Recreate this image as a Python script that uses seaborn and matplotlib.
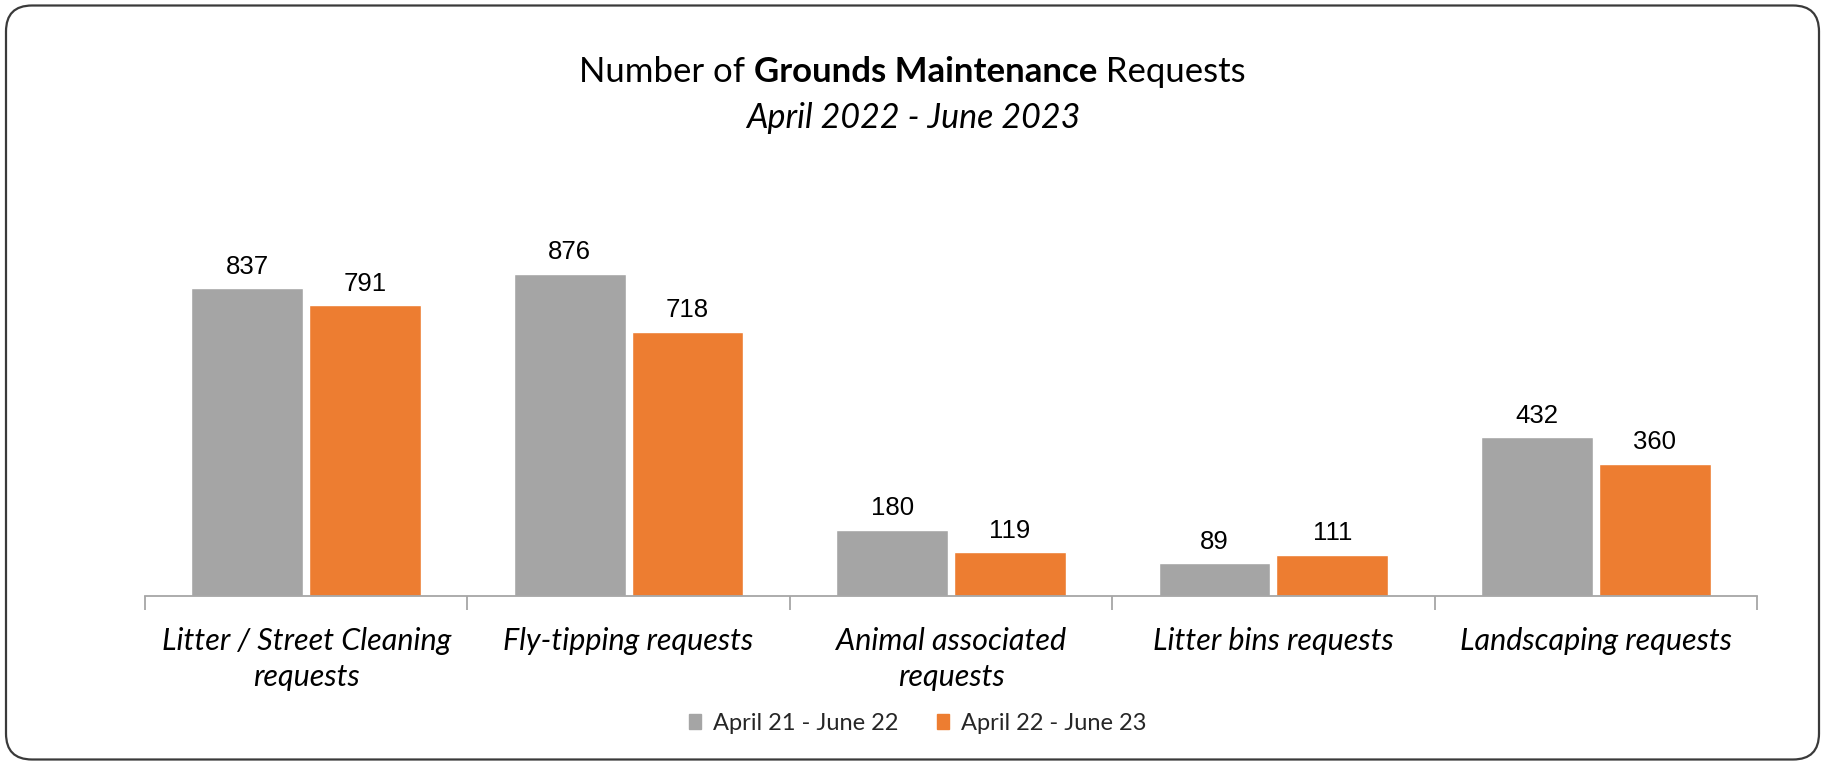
import matplotlib
matplotlib.use("Agg")
import matplotlib.pyplot as plt
import matplotlib.patches as mpatches
import matplotlib.transforms as mtrans
import seaborn as sns
import pandas as pd

categories = ["Litter / Street Cleaning\nrequests", "Fly-tipping requests",
              "Animal associated\nrequests", "Litter bins requests",
              "Landscaping requests"]
series_names = ["April 21 - June 22", "April 22 - June 23"]
values_prev = [837, 876, 180, 89, 432]
values_curr = [791, 718, 119, 111, 360]
colors = ["#A5A5A5", "#ED7D31"]

df = pd.DataFrame({
    "category": categories * 2,
    "period": [series_names[0]] * 5 + [series_names[1]] * 5,
    "value": values_prev + values_curr,
})

sns.set_theme(style="white")
plt.rcParams["font.family"] = ["Lato", "DejaVu Sans"]

W, H = 1825, 761
fig = plt.figure(figsize=(W / 100, H / 100), dpi=100)
ax = fig.add_axes([145 / W, 1 - 596 / H, 1612 / W, 367.5 / H])

sns.barplot(data=df, x="category", y="value", hue="period", order=categories,
            hue_order=series_names, palette=colors, width=0.73, gap=0.05,
            saturation=1, ax=ax, legend=True)

ax.set_ylim(0, 1000)
ax.set_xlim(-0.5, 4.5)
ax.set_xlabel("")
ax.set_ylabel("")
ax.set_yticks([])
for s in ["top", "right", "left"]:
    ax.spines[s].set_visible(False)
ax.spines["bottom"].set_color("#A6A6A6")
ax.spines["bottom"].set_linewidth(1.3)

ax.set_xticks(range(5))
ax.set_xticklabels(categories, fontstyle="italic", fontsize=22,
                   linespacing=1.37, color="#000000")
ax.set_xticks([i - 0.5 for i in range(6)], minor=True)
ax.tick_params(axis="x", which="major", length=0, pad=22)
ax.tick_params(axis="x", which="minor", length=10, width=1.3,
               color="#A6A6A6", bottom=True)

for cont in ax.containers:
    ax.bar_label(cont, padding=7, fontsize=18.5, family="Liberation Sans",
                 color="#000000")

# legend
ax.get_legend().remove()
handles = [mpatches.Patch(color=c) for c in colors]
fig.legend(handles, series_names, loc="center",
           bbox_to_anchor=(0.5 + 5 / W, 1 - 723 / H),
           ncol=2, frameon=False, fontsize=17, handlelength=0.52,
           handleheight=0.6, handletextpad=0.5, columnspacing=1.65)

# title with mixed weights
renderer = fig.canvas.get_renderer()
parts = [("Number of ", "normal"), ("Grounds Maintenance", "bold"),
         (" Requests", "normal")]
ty = 1 - 72 / H
txts = []
for s, w in parts:
    t = fig.text(0, ty, s, fontsize=25, fontweight=w, va="center", ha="left",
                 color="#000000")
    txts.append(t)
widths = [t.get_window_extent(renderer).width for t in txts]
total = sum(widths)
x0 = (W / 2 - total / 2)
for t, w in zip(txts, widths):
    t.set_x(x0 / W)
    x0 += w
fig.text(0.5 * (747 + 1080) / W, 1 - 118 / H, "April 2022 - June 2023",
         fontsize=24.5, fontstyle="italic", ha="center", va="center",
         color="#000000")

# rounded border
border = mpatches.FancyBboxPatch((6, 1.5), 1813, 754,
                                 boxstyle="round,pad=0,rounding_size=26",
                                 transform=mtrans.IdentityTransform(),
                                 facecolor="none", edgecolor="#3A3A3A",
                                 linewidth=1.6)
fig.patches.append(border)

fig.savefig("out.png", dpi=100)
